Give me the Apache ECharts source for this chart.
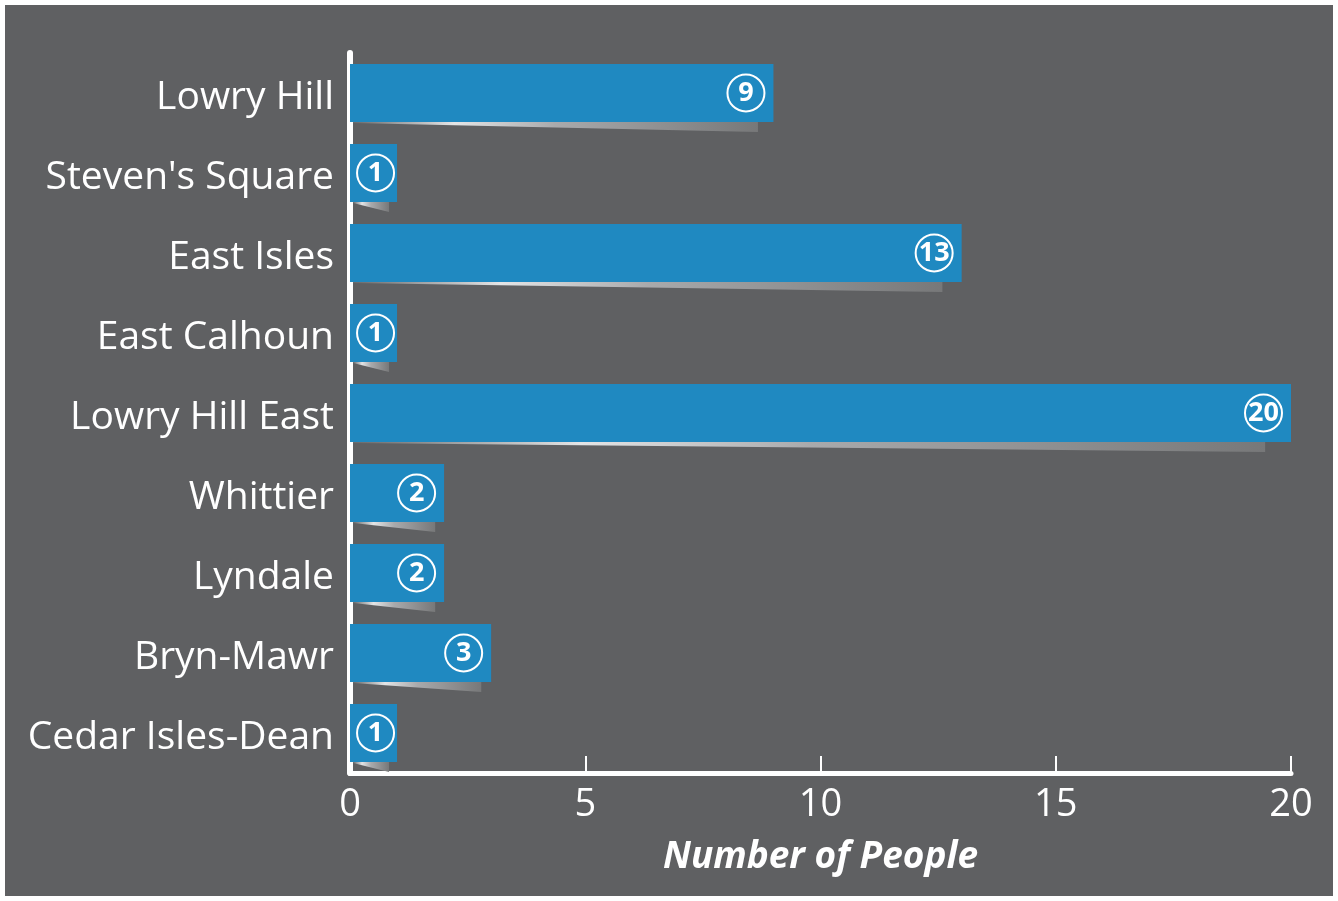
<!DOCTYPE html>
<html>
<head>
<meta charset="utf-8">
<script src="https://cdn.jsdelivr.net/npm/echarts@6/dist/echarts.min.js"></script>
<style>
html,body{margin:0;padding:0;background:#ffffff;}
#chart{position:absolute;left:5px;top:5px;width:1328px;height:891px;}
</style>
</head>
<body>
<div id="chart"></div>
<script>
const categories = ["Lowry Hill","Steven's Square","East Isles","East Calhoun","Lowry Hill East","Whittier","Lyndale","Bryn-Mawr","Cedar Isles-Dean"];
const values = [9, 1, 13, 1, 20, 2, 2, 3, 1];
const xTicks = [0, 5, 10, 15, 20];

const FONT = "'Open Sans', 'Noto Sans', sans-serif";
const chart = echarts.init(document.getElementById('chart'));

const shadowData = values.map((v, i) => [v, i]);
const barData = values.map(v => ({ value: v, label: { distance: v <= 1 ? 3 : 9 } }));

chart.setOption({
  backgroundColor: '#5f6062',
  animation: false,
  grid: { left: 345, right: 42, top: 48, bottom: 123 },
  xAxis: {
    type: 'value',
    min: xTicks[0], max: xTicks[xTicks.length - 1], interval: 5,
    axisLine: { show: true, lineStyle: { color: '#ffffff', width: 5 } },
    axisTick: { show: true, inside: true, length: 17, lineStyle: { color: '#ffffff', width: 2 } },
    splitLine: { show: false },
    axisLabel: { color: '#ffffff', fontSize: 38, fontFamily: FONT, margin: 13 },
    name: 'Number of People',
    nameLocation: 'middle',
    nameGap: 66,
    nameTextStyle: { color: '#ffffff', fontSize: 37, fontWeight: 'bold', fontStyle: 'italic', fontFamily: FONT }
  },
  yAxis: {
    type: 'category',
    data: categories,
    inverse: true,
    axisLine: { show: true, lineStyle: { color: '#ffffff', width: 6 } },
    axisTick: { show: false },
    axisLabel: {
      margin: 16,
      formatter: function (v) { return '{a|' + v + '}'; },
      rich: {
        a: { color: '#ffffff', fontSize: 39, fontFamily: FONT, padding: [10, 0, 0, 0] }
      }
    }
  },
  series: [
    {
      type: 'custom',
      data: shadowData,
      encode: { x: 0, y: 1 },
      z: 1,
      renderItem: function (params, api) {
        const v = api.value(0);
        const idx = api.value(1);
        const start = api.coord([0, idx]);
        const end = api.coord([v * 0.98 - 0.15, idx]);
        const bottom = start[1] + 29;
        const endH = 10;
        return {
          type: 'polygon',
          shape: { points: [[start[0] + 3, bottom], [end[0], bottom], [end[0], bottom + endH], [start[0] + 3, bottom + 1]] },
          style: {
            fill: new echarts.graphic.LinearGradient(0, 0, 1, 0, [
              { offset: 0, color: '#6a6b6d' },
              { offset: 0.25, color: '#e4e5e6' },
              { offset: 0.5, color: '#a9aaac' },
              { offset: 1, color: '#777879' }
            ])
          }
        };
      }
    },
    {
      type: 'bar',
      data: barData,
      barWidth: 58,
      z: 2,
      itemStyle: { color: '#1f89c1' },
      label: {
        show: true,
        position: 'insideRight',
        distance: 8,
        formatter: function (p) { return '{c|' + p.value + '}'; },
        rich: {
          c: {
            color: '#ffffff',
            fontSize: 27,
            fontWeight: 'bold',
            fontFamily: FONT,
            width: 35,
            height: 35,
            lineHeight: 35,
            align: 'center',
            borderColor: '#ffffff',
            borderWidth: 2,
            borderRadius: 19,
            padding: [1, 1, 1, 1]
          }
        }
      }
    }
  ]
});
</script>
</body>
</html>
